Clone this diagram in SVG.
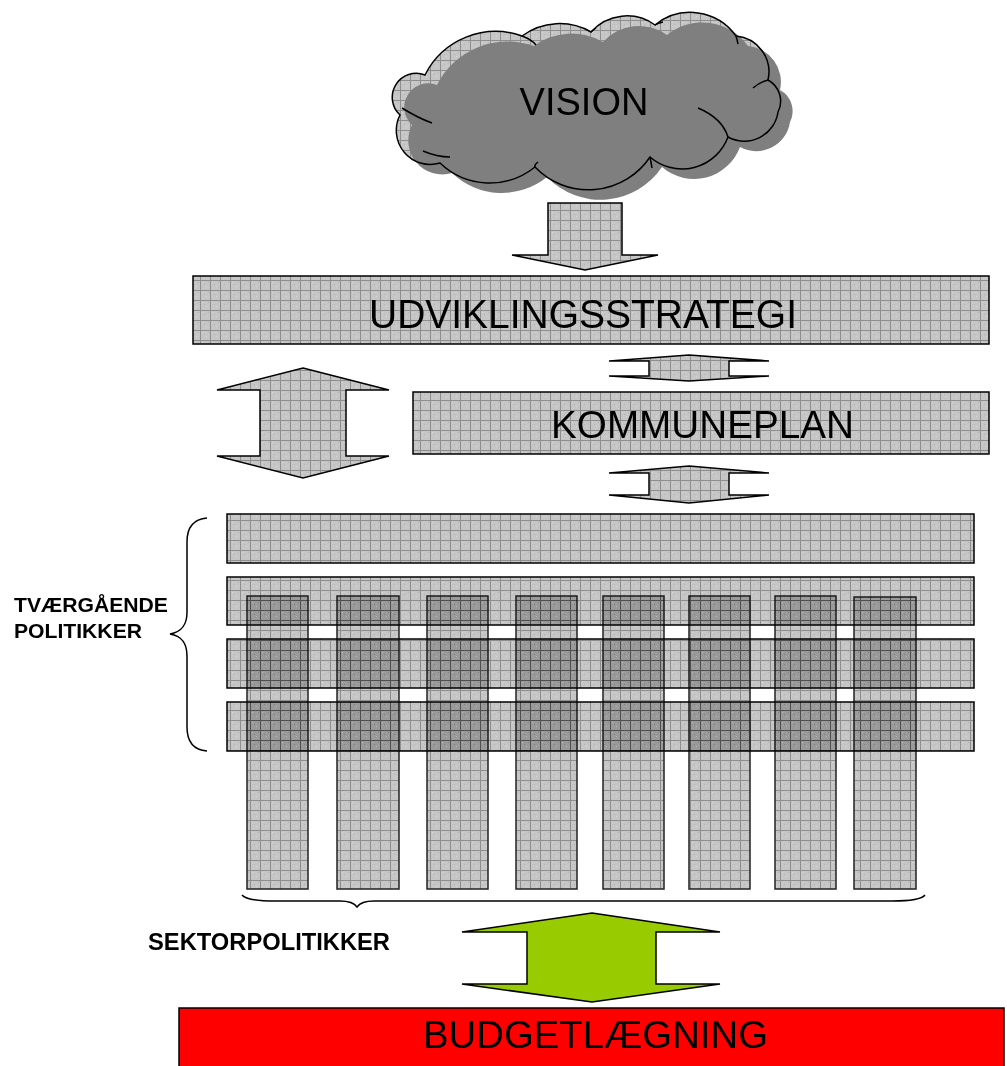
<svg xmlns="http://www.w3.org/2000/svg" width="1007" height="1066" viewBox="0 0 1007 1066">
<defs>
  <pattern id="grid" width="10" height="10" patternUnits="userSpaceOnUse">
    <rect width="10" height="10" fill="#c6c6c6"/>
    <rect x="2" y="2" width="1" height="1" fill="#d8d8d8"/>
    <rect x="6" y="6" width="1" height="1" fill="#d8d8d8"/>
    <rect x="4" y="4" width="1" height="1" fill="#b4b4b4"/>
    <rect x="8" y="2" width="1" height="1" fill="#b4b4b4"/>
    <path d="M0,0.5H10M0.5,0V10" stroke="#8e8e8e" stroke-width="1" fill="none"/>
  </pattern>
  <path id="cloudShape" d="M400,115 A24,24 0 0 1 425,75 A79,79 0 0 1 522,36 A63,63 0 0 1 591,32 A48,48 0 0 1 655,25 A56,56 0 0 1 736,36 A36,36 0 0 1 768,80 A24,24 0 0 1 778,112 A34,34 0 0 1 728,137 A49,49 0 0 1 650,157 A74,74 0 0 1 535,167 A72,72 0 0 1 440,163 A34,34 0 0 1 400,115 Z"/>
</defs>
<style>
  .pat { fill: url(#grid); stroke: #000; stroke-width: 1.5; }
  .col { fill: url(#grid); stroke: #222; stroke-width: 1.5; mix-blend-mode: multiply; }
  .arrow { fill: url(#grid); stroke: #000; stroke-width: 1.5; stroke-linejoin: miter; }
  .brace { fill: none; stroke: #000; stroke-width: 1.5; }
  .big { font-family: "Liberation Sans", Arial, sans-serif; fill: #000; }
  .lbl { font-family: "Liberation Sans", Arial, sans-serif; font-weight: bold; fill: #000; }
</style>
<rect width="1007" height="1066" fill="#fff"/>

<g id="vision">
  <use href="#cloudShape" fill="url(#grid)"/>
  <use href="#cloudShape" fill="#7f7f7f" transform="translate(12,10)"/>
  <use href="#cloudShape" fill="none" stroke="#000" stroke-width="1.5"/>
  <path d="M402,108 Q418,118 432,123 M423,151 Q437,157 450,157 M522,36 Q531,39 536,45 M591,32 Q593,30 596,28 M655,25 Q658,23 663,22 M736,36 Q737,39 738,44 M753,88 Q760,82 768,80 M698,108 Q722,118 728,137 M650,157 Q651,162 652,168 M535,167 Q534,165 538,162" fill="none" stroke="#000" stroke-width="1.5"/>
  <text class="big" x="584" y="115" font-size="38" text-anchor="middle">VISION</text>
</g>

<g id="udviklingsstrategi">
  <rect class="pat" x="193" y="276" width="796" height="68"/>
  <text class="big" x="369" y="328" font-size="40" textLength="428" lengthAdjust="spacingAndGlyphs">UDVIKLINGSSTRATEGI</text>
</g>

<g id="kommuneplan">
  <rect class="pat" x="413" y="392" width="576" height="62"/>
  <text class="big" x="551" y="438" font-size="39" textLength="303" lengthAdjust="spacingAndGlyphs">KOMMUNEPLAN</text>
</g>

<g id="tvaergaaende-politikker">
  <rect class="pat" x="227" y="514" width="747" height="49"/>
  <rect class="pat" x="227" y="577" width="747" height="48"/>
  <rect class="pat" x="227" y="639" width="747" height="49"/>
  <rect class="pat" x="227" y="702" width="747" height="49"/>
</g>

<g id="sektorpolitikker">
  <rect class="col" x="247" y="596" width="61" height="293"/>
  <rect class="col" x="337" y="596" width="62" height="293"/>
  <rect class="col" x="427" y="596" width="61" height="293"/>
  <rect class="col" x="516" y="596" width="61" height="293"/>
  <rect class="col" x="603" y="596" width="61" height="293"/>
  <rect class="col" x="689" y="596" width="61" height="293"/>
  <rect class="col" x="775" y="596" width="61" height="293"/>
  <rect class="col" x="854" y="597" width="62" height="292"/>
</g>

<g id="budgetlaegning">
  <rect x="179" y="1008" width="825" height="70" fill="#ff0000" stroke="#000" stroke-width="1.5"/>
  <text class="big" x="423" y="1048" font-size="39" textLength="345" lengthAdjust="spacingAndGlyphs">BUDGETLÆGNING</text>
</g>

<g id="labels">
  <text class="lbl" x="14" y="612" font-size="21" textLength="154" lengthAdjust="spacingAndGlyphs">TVÆRGÅENDE</text>
  <text class="lbl" x="14" y="638" font-size="21" textLength="128" lengthAdjust="spacingAndGlyphs">POLITIKKER</text>
  <text class="lbl" x="148" y="950" font-size="23.5" textLength="242" lengthAdjust="spacingAndGlyphs">SEKTORPOLITIKKER</text>
</g>

<g id="connectors">
  <polygon class="arrow" points="548,203 622,203 622,255 658,255 585,270 512,255 548,255"/>
  <polygon class="arrow" points="303,368 389,390 346,390 346,456 389,456 303,478 217,456 260,456 260,390 217,390"/>
  <polygon class="arrow" points="689,355 769,361 729,361 729,376 769,376 689,381 609,376 649,376 649,361 609,361"/>
  <polygon class="arrow" points="689,466 769,473 729,473 729,495 769,495 689,503 609,495 649,495 649,473 609,473"/>
  <polygon points="592,913 720,932 656,932 656,984 720,984 592,1002 462,984 527,984 527,932 462,932" fill="#99cc00" stroke="#000" stroke-width="1.5"/>
  <path class="brace" d="M207,518 C194,519 187,526 187,542 L187,612 C187,626 181,632 170,634 C181,636 187,642 187,656 L187,727 C187,743 194,750 207,751"/>
  <path class="brace" d="M242,895 C245,899 255,901 275,901 L340,901 C350,901 355,904 357,907 C359,904 364,901 374,901 L892,901 C912,901 922,899 925,895"/>
</g>
</svg>
